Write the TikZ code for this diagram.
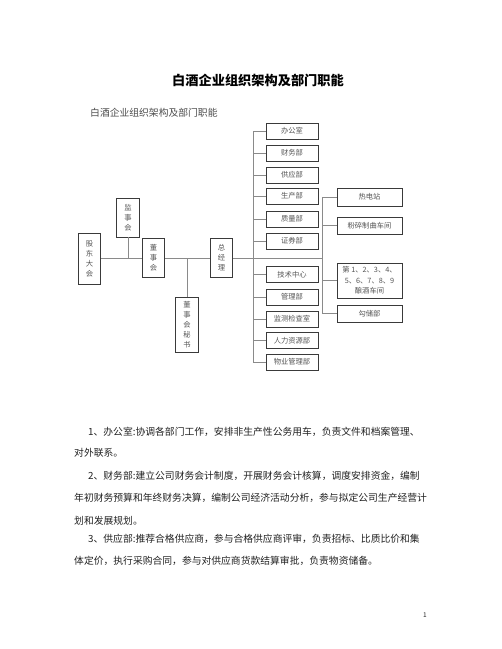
\documentclass[tikz,border=0pt]{standalone}
\usepackage{fontspec}
\setmainfont{Noto Sans CJK SC}
\newfontfamily\cjk{Noto Sans CJK SC}
\definecolor{boxline}{HTML}{3A3A3A}
\definecolor{conn}{HTML}{8A8A8A}
\definecolor{boxtext}{HTML}{555555}
\definecolor{bodytext}{HTML}{222222}
\tikzset{
  orgbox/.style={draw=boxline, line width=0.8pt, inner sep=0pt, fill=white, text=boxtext,
    font=\cjk\fontsize{7.3}{10}\selectfont, align=center},
  vbox/.style={orgbox, minimum width=22.5pt},
  dept/.style={orgbox, minimum width=52pt, minimum height=16pt},
  shop/.style={orgbox, minimum width=65pt},
  wire/.style={draw=conn, line width=0.7pt},
  bodyline/.style={anchor=base west, inner sep=0pt, text=bodytext, font=\cjk\fontsize{9.8}{12}\selectfont}
}
\begin{document}
\begin{tikzpicture}[x=1pt,y=-1pt]
\useasboundingbox (0,0) rectangle (502,649);
\fill[white] (0,0) rectangle (502,649);

% titles
\node[font=\cjk\bfseries\fontsize{13.2}{15}\selectfont, inner sep=0pt] (title) at (258,80) {白酒企业组织架构及部门职能};
\node[anchor=west, inner sep=0pt, text=black!70, font=\cjk\fontsize{9.8}{12}\selectfont] (subtitle) at (90,113) {白酒企业组织架构及部门职能};

% left part
\node[vbox, minimum height=39pt] (jsh) at (128,217.5) {监\\事\\会};
\node[vbox, minimum height=51pt] (gd) at (89.5,258.5) {股\\东\\大\\会};
\node[vbox, minimum height=39pt] (dsh) at (153.5,258) {董\\事\\会};
\node[vbox, minimum height=39pt] (zjl) at (221.5,258) {总\\经\\理};
\node[vbox, minimum height=55pt] (ms) at (187,324.5) {董\\事\\会\\秘\\书};

% departments
\node[dept] (bgs) at (292,131) {办公室};
\node[dept] (cwb) at (292,153) {财务部};
\node[dept] (gyb) at (292,175) {供应部};
\node[dept] (scb) at (292,196) {生产部};
\node[dept] (zlb) at (292,219) {质量部};
\node[dept] (zqb) at (292,241) {证券部};
\node[dept] (jszx) at (292,274.5) {技术中心};
\node[dept] (glb) at (292,297) {管理部};
\node[dept] (jc) at (292,319) {监测检查室};
\node[dept] (rl) at (292,340.5) {人力资源部};
\node[dept] (wy) at (292,362) {物业管理部};

% workshops
\node[shop, minimum height=18pt] (rdz) at (369.5,197) {热电站};
\node[shop, minimum height=17pt] (fs) at (369.5,225.5) {粉碎制曲车间};
\node[shop, minimum height=35pt, font=\cjk\fontsize{7.3}{10.5}\selectfont] (nj) at (369.5,280.5) {第 1、2、3、4、\\5、6、7、8、9\\酿酒车间};
\node[shop, minimum height=17pt] (gc) at (369.5,313.5) {勾储部};

% junction coordinates
\coordinate (b1) at (128,258.3);
\coordinate (b2) at (187,258.3);
\coordinate (mt) at (253,131);
\coordinate (mb) at (253,362);
\coordinate (sj) at (322.5,258.3);
\coordinate (st) at (322.5,197);
\coordinate (sb) at (322.5,313.5);

% connectors
\begin{scope}[on background layer/.style={}]
\draw[wire] (gd.east |- b1) -- (dsh.west |- b1);
\draw[wire] (jsh) -- (b1);
\draw[wire] (dsh.east |- b2) -- (zjl.west |- b2);
\draw[wire] (b2) -- (ms);
\draw[wire] (zjl.east |- sj) -- (sj);
\draw[wire] (mt) -- (mb);
\foreach \n in {bgs,cwb,gyb,scb,zlb,zqb,jszx,glb,jc,rl,wy} {
  \draw[wire] (mt |- \n) -- (\n);
}
\draw[wire] (st) -- (sb);
\foreach \n in {rdz,fs,nj,gc} {
  \draw[wire] (st |- \n) -- (\n);
}
\end{scope}

% body text
\node[bodyline] (p1a) at (88,435) {1、办公室:协调各部门工作，安排非生产性公务用车，负责文件和档案管理、};
\node[bodyline] (p1b) at (74,456) {对外联系。};
\node[bodyline] (p2a) at (88,479) {2、财务部:建立公司财务会计制度，开展财务会计核算，调度安排资金，编制};
\node[bodyline] (p2b) at (74,501) {年初财务预算和年终财务决算，编制公司经济活动分析，参与拟定公司生产经营计};
\node[bodyline] (p2c) at (74,524) {划和发展规划。};
\node[bodyline] (p3a) at (88,542) {3、供应部:推荐合格供应商，参与合格供应商评审，负责招标、比质比价和集};
\node[bodyline] (p3b) at (74,564) {体定价，执行采购合同，参与对供应商货款结算审批，负责物资储备。};
\node[inner sep=0pt, text=bodytext, font=\cjk\fontsize{6.5}{8}\selectfont] (pg) at (425,615) {1};
\end{tikzpicture}
\end{document}
